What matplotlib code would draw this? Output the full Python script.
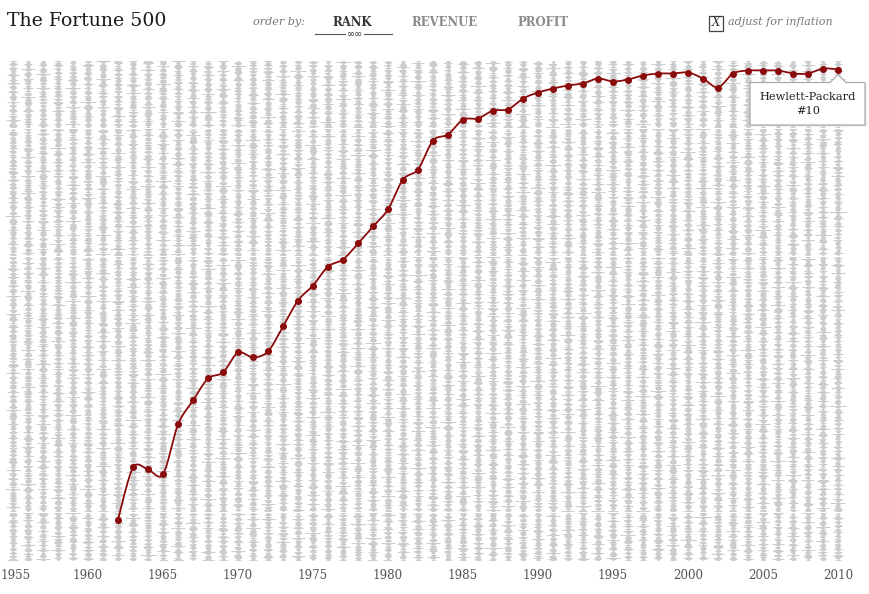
import numpy as np
import matplotlib
matplotlib.use("Agg")
import matplotlib.pyplot as plt
from matplotlib.collections import LineCollection
from matplotlib.patches import Polygon, Rectangle
from matplotlib.transforms import IdentityTransform, ScaledTranslation
from matplotlib.lines import Line2D

# ---------------- data ----------------
years = list(range(1955, 2011))
n_ranks = 500
tick_years = [1955, 1960, 1965, 1970, 1975, 1980, 1985, 1990, 1995, 2000, 2005, 2010]

hp_name = "Hewlett-Packard"
hp_years = list(range(1962, 2011))
hp_rank = [460, 408, 410, 415, 365, 341, 319, 313, 293, 298, 292, 267, 241, 226,
           207, 200, 184, 167, 150, 120, 110, 81, 75, 60, 59, 51, 50, 39, 33, 29,
           26, 24, 19, 22, 20, 16, 14, 14, 13, 19, 28, 14, 11, 11, 11, 14, 14, 9, 10]

# half-widths (px) of the grey company ticks: two hand-typed texture samples
tex_a = [1.5, 2, 1.5, 2.5, 3, 2, 1.5, 2, 4, 2, 1.5, 2.5, 2, 1.5, 3.5, 5, 3, 2, 1.5,
         2, 2.5, 1.5, 2, 6, 2, 1.5, 2, 3, 2.5, 2, 1.5, 2, 4.5, 2, 1.5, 2, 2.5, 3.5,
         2.5, 1.5, 2, 1.5, 5.5, 2, 1.5, 2, 3, 2, 1.5, 2.5, 2, 4, 2, 1.5, 2, 1.5, 3,
         2.5, 2, 1.5, 7, 2, 1.5, 2, 2.5, 3, 4, 3, 2, 1.5, 2, 1.5, 2.5, 2, 5, 2, 1.5,
         2, 3, 2, 1.5, 2, 3.5, 2, 1.5, 2.5, 2, 1.5, 4.5, 2, 1.5, 2, 2.5, 2, 1.5, 3, 2]
tex_b = [0, 0.5, 0, 0, 1, 0.5, 0, 0, 0, 1.5, 0.5, 0, 0, 0.5, 0, 1, 0, 0, 0.5, 0,
         2, 0.5, 0, 0, 0.5, 0, 1, 0.5, 0, 0, 0, 1.5, 1, 0, 0.5, 0, 0, 0.5, 0, 1, 0]

# ---------------- figure ----------------
W, H = 869, 594
fig = plt.figure(figsize=(W / 100, H / 100), dpi=100)
fig.patch.set_facecolor("white")

top_px, bot_px = 55, 565
ax = fig.add_axes([0, 1 - bot_px / H, 1, (bot_px - top_px) / H])
px_per_year = 15.0
x0_year = 1955 - 13 / px_per_year
ax.set_xlim(x0_year, x0_year + W / px_per_year)
ax.set_ylim(505.5, -4.5)
for s in ax.spines.values():
    s.set_visible(False)
ax.set_yticks([])
ax.set_xticks(tick_years)
ax.set_xticklabels([str(y) for y in tick_years], family="DejaVu Serif",
                   fontsize=8.6, color="#555555")
ax.tick_params(axis="x", length=0, pad=3)
ax.set_facecolor("white")
first = ax.get_xticklabels()[0]
first.set_transform(first.get_transform() + ScaledTranslation(2.5 / 100, 0, fig.dpi_scale_trans))

# grey columns of company ticks
La, Lb = len(tex_a), len(tex_b)
segs = []
for j, yr in enumerate(years):
    for r in range(1, n_ranks + 1):
        hw = (tex_a[(r + 23 * j) % La] + tex_b[(r + 11 * j) % Lb]) / px_per_year
        segs.append([(yr - hw, r), (yr + hw, r)])
lc = LineCollection(segs, colors="#cccccc", linewidths=0.72, zorder=1)
ax.add_collection(lc)

# smoothed (cardinal) HP line
P = np.column_stack([hp_years, hp_rank]).astype(float)
n = len(P)
T = np.zeros_like(P)
a = 0.15
for i in range(1, n - 1):
    T[i] = a * (P[i + 1] - P[i - 1])
T[0] = a * (P[1] - P[0])
T[-1] = a * (P[-1] - P[-2])
curve = []
tt = np.linspace(0, 1, 20)[:, None]
for i in range(n - 1):
    b0, b1, b2, b3 = P[i], P[i] + T[i], P[i + 1] - T[i + 1], P[i + 1]
    c = ((1 - tt) ** 3) * b0 + 3 * ((1 - tt) ** 2) * tt * b1 + 3 * (1 - tt) * tt ** 2 * b2 + tt ** 3 * b3
    curve.append(c if i == 0 else c[1:])
curve = np.vstack(curve)
red = "#8b0a0a"
ax.plot(curve[:, 0], curve[:, 1], color=red, lw=1.3, zorder=3, solid_capstyle="round")
ax.plot(hp_years, hp_rank, ls="none", marker="o", ms=4.0, color=red, zorder=4)

# tooltip
fig.canvas.draw()
px, py = ax.transData.transform((hp_years[-1], hp_rank[-1]))
box = [(px, py - 5), (px + 8, py - 13), (px + 27, py - 13), (px + 27, py - 55.5),
       (px - 88, py - 55.5), (px - 88, py - 13), (px - 8, py - 13)]
shadow = Polygon([(x + 1.5, y - 1.5) for x, y in box], closed=True, transform=IdentityTransform(),
                 facecolor="#e2e2e2", edgecolor="none", zorder=5)
fig.add_artist(shadow)
tip = Polygon(box, closed=True, transform=IdentityTransform(), facecolor="white",
              edgecolor="#aaaaaa", lw=0.9, zorder=6)
fig.add_artist(tip)
fig.text(px - 30, py - 28, hp_name, transform=IdentityTransform(), ha="center", va="center",
         family="DejaVu Serif", fontsize=8.2, color="#222222", zorder=7)
fig.text(px - 30, py - 42, "#%d" % hp_rank[-1], transform=IdentityTransform(), ha="center",
         va="center", family="DejaVu Serif", fontsize=8.2, color="#222222", zorder=7)

# ---------------- header ----------------
def fx(x):
    return x / W

def fy(y):
    return 1 - y / H

fig.text(fx(7), fy(20.5), "The Fortune 500", family="DejaVu Serif", fontsize=13.6,
         color="#1a1a1a", ha="left", va="center")
fig.text(fx(279), fy(22), "order by:", family="DejaVu Serif", style="italic", fontsize=8.0,
         color="#777777", ha="center", va="center")
fig.text(fx(352), fy(22), "RANK", family="DejaVu Serif", weight="bold", fontsize=8.4,
         color="#333333", ha="center", va="center")
fig.text(fx(444.5), fy(22), "REVENUE", family="DejaVu Serif", weight="bold", fontsize=8.4,
         color="#8a8a8a", ha="center", va="center")
fig.text(fx(543), fy(22), "PROFIT", family="DejaVu Serif", weight="bold", fontsize=8.4,
         color="#8a8a8a", ha="center", va="center")
fig.add_artist(Line2D([fx(315), fx(392)], [fy(34.3), fy(34.3)], color="#555555", lw=0.8))
fig.text(fx(355), fy(34.3), "\u221e\u221e", family="DejaVu Sans", fontsize=7, color="#333333",
         ha="center", va="center",
         bbox=dict(boxstyle="square,pad=0.05", facecolor="white", edgecolor="none"))

fig.add_artist(Rectangle((fx(708.5), fy(30.5)), fx(14), 14.5 / H, facecolor="white",
                         edgecolor="#444444", lw=0.9, transform=fig.transFigure))
fig.text(fx(715.5), fy(23), "X", family="DejaVu Serif", style="italic", fontsize=8.5,
         color="#333333", ha="center", va="center")
fig.text(fx(728), fy(22), "adjust for inflation", family="DejaVu Serif", style="italic",
         fontsize=8.0, color="#777777", ha="left", va="center")

fig.savefig("out.png", dpi=100, facecolor="white")
